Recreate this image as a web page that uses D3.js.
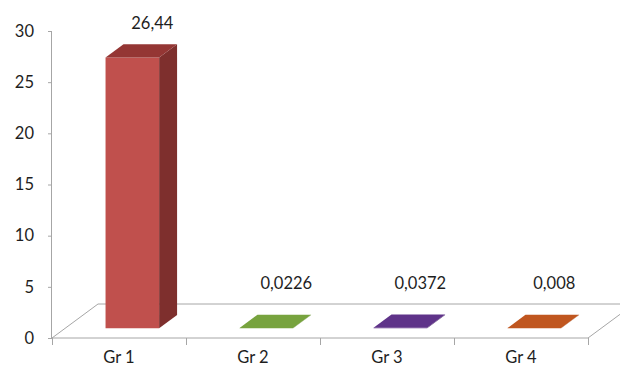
<!DOCTYPE html>
<html>
<head>
<meta charset="utf-8">
<script src="https://cdn.jsdelivr.net/npm/d3@7"></script>
<style>
  html, body { margin: 0; padding: 0; background: #fff; }
  svg { display: block; font-family: Lato, "Open Sans", sans-serif; }
</style>
</head>
<body>
<svg id="chart" width="620" height="371"></svg>
<script>
// Values per group
const categories = ["Gr 1", "Gr 2", "Gr 3", "Gr 4"];
const values = [26.44, 0.0226, 0.0372, 0.008];
const yTicks = [0, 5, 10, 15, 20, 25, 30];

// Face colours for each bar: front, side, top
const frontColors = ["#C0504D", "#77A33E", "#5F3389", "#C0561F"];
const sideColors  = ["#7E2F2D", "#547A28", "#41205F", "#8A3C14"];
const topColors   = ["#943634", "#6A9434", "#532A78", "#B0501C"];

const svg = d3.select("#chart");
const plotLeft = 52, plotRight = 588, plotBottom = 338, plotTop = 31;
const fontSize = "16.5px";

// 3D depth of the floor
const depthX = 46, depthY = -34;
const barDepth0 = 0.29, barDepth1 = 0.68;

const y = d3.scaleLinear().domain([0, 30]).range([plotBottom, plotTop]);
const x = d3.scaleBand().domain(categories).range([plotLeft, plotRight]).paddingInner(0).paddingOuter(0);
const barW = x.bandwidth() * 0.4;

const axisColor = "#A6A6A6";
const textColor = "#1E1E1E";
const locale = d3.formatLocale({ decimal: ",", thousands: ".", grouping: [3], currency: ["", ""] });
const fmt = locale.format("~g");

// Floor outline
const floor = svg.append("g").attr("fill", "none").attr("stroke", axisColor).attr("stroke-width", 1);
floor.append("path").attr("d", d3.line()([
  [plotLeft, plotBottom], [plotLeft + depthX, plotBottom + depthY], [plotRight + depthX, plotBottom + depthY]
]));
floor.append("path").attr("d", d3.line()([
  [plotLeft, plotBottom], [plotRight, plotBottom], [plotRight + depthX, plotBottom + depthY]
]));

// Y axis
const yAxis = svg.append("g").attr("transform", `translate(${plotLeft},0)`)
  .call(d3.axisLeft(y).tickValues(yTicks).tickSize(4).tickPadding(14));
yAxis.select(".domain").attr("stroke", axisColor).attr("d", `M-0.5,${plotBottom}V${plotTop}`);
yAxis.selectAll(".tick line").attr("stroke", axisColor);
yAxis.selectAll(".tick text").attr("fill", textColor).style("font-size", fontSize)
  .style("font-family", "Lato, 'Open Sans', sans-serif");

// X axis labels along the front floor edge
const xAxis = svg.append("g").attr("transform", `translate(0,${plotBottom})`)
  .call(d3.axisBottom(x).tickSize(0).tickPadding(13));
xAxis.select(".domain").remove();
xAxis.selectAll(".tick text").attr("fill", textColor).style("font-size", fontSize)
  .style("font-family", "Lato, 'Open Sans', sans-serif");
const bounds = categories.map(c => x(c)).concat([plotRight]);
svg.append("g").selectAll("line").data(bounds).join("line")
  .attr("x1", d => d + 0.5).attr("x2", d => d + 0.5)
  .attr("y1", plotBottom).attr("y2", plotBottom + 7)
  .attr("stroke", axisColor);

// Bars drawn as boxes
const bars = svg.append("g").selectAll("g").data(values).join("g");
bars.each(function(v, i) {
  const g = d3.select(this);
  const fx = x(categories[i]) + x.bandwidth() / 2 + depthX * barDepth0 - barW / 2;
  const fy0 = plotBottom + depthY * barDepth0;
  const h = plotBottom - y(v);
  const fy1 = fy0 - h;
  const dx = depthX * (barDepth1 - barDepth0);
  const dy = depthY * (barDepth1 - barDepth0);
  // front
  g.append("path").attr("fill", frontColors[i])
    .attr("d", d3.line()([[fx, fy0], [fx + barW, fy0], [fx + barW, fy1], [fx, fy1]]) + "Z");
  // side
  g.append("path").attr("fill", sideColors[i])
    .attr("d", d3.line()([[fx + barW, fy0], [fx + barW + dx, fy0 + dy], [fx + barW + dx, fy1 + dy], [fx + barW, fy1]]) + "Z");
  // top
  g.append("path").attr("fill", h < 2 ? frontColors[i] : topColors[i])
    .attr("d", d3.line()([[fx, fy1], [fx + barW, fy1], [fx + barW + dx, fy1 + dy], [fx + dx, fy1 + dy]]) + "Z");
});

// Value labels above each box
const midDepth = (barDepth0 + barDepth1) / 2;
svg.append("g").selectAll("text").data(values).join("text")
  .attr("x", (v, i) => x(categories[i]) + x.bandwidth() / 2 + depthX * midDepth + 11)
  .attr("y", v => Math.min(y(v) + depthY * barDepth1, plotBottom + depthY) - 21)
  .attr("text-anchor", "middle")
  .attr("dominant-baseline", "central")
  .attr("fill", textColor)
  .style("font-size", fontSize)
  .text(v => fmt(v));
</script>
</body>
</html>
